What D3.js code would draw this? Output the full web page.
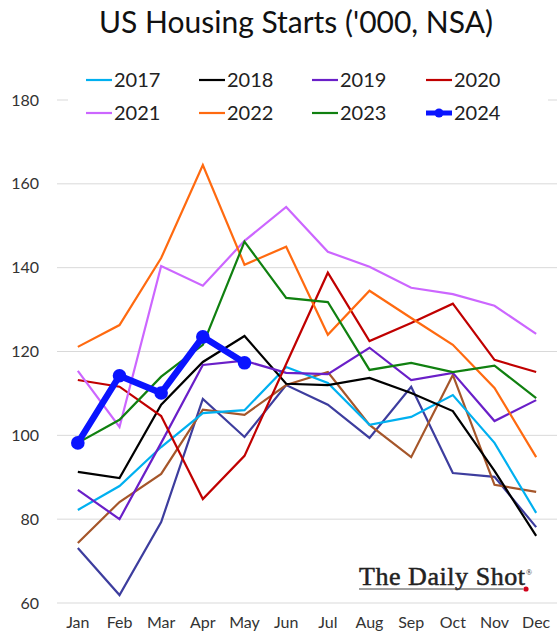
<!DOCTYPE html>
<html>
<head>
<meta charset="utf-8">
<script src="https://cdn.jsdelivr.net/npm/d3@7"></script>
<style>
  body { margin: 0; background: #fff; }
  svg { display: block; }
  .tick text { font-family: Lato, "Open Sans", sans-serif; fill: #333; }
</style>
</head>
<body>
<div id="container"></div>
<script>
const months = ["Jan","Feb","Mar","Apr","May","Jun","Jul","Aug","Sep","Oct","Nov","Dec"];
const yTicks = [60, 80, 100, 120, 140, 160, 180];

// series not shown in the legend
const y2015 = [73.1, 61.9, 79.3, 108.7, 99.6, 112.0, 107.3, 99.4, 111.6, 91.0, 90.1, 78.1];
const y2016 = [74.3, 84.1, 90.8, 106.1, 104.9, 112.0, 115.1, 102.5, 94.8, 114.4, 88.2, 86.5];
// legend series
const y2017 = [82.2, 87.9, 97.2, 105.3, 106.0, 116.3, 112.5, 102.5, 104.4, 109.6, 98.2, 81.5];
const y2018 = [91.3, 89.8, 107.3, 117.5, 123.7, 112.3, 112.0, 113.7, 110.1, 105.8, 91.5, 76.0];
const y2019 = [87.0, 80.0, 98.2, 116.8, 117.8, 114.9, 114.6, 120.9, 113.2, 114.9, 103.4, 108.4];
const y2020 = [113.2, 111.6, 104.6, 84.8, 95.1, 117.0, 138.8, 122.5, 126.8, 131.4, 118.0, 115.1];
const y2021 = [115.4, 102.0, 140.4, 135.7, 146.4, 154.5, 143.8, 140.2, 135.2, 133.7, 130.9, 124.2];
const y2022 = [121.1, 126.3, 142.3, 164.5, 140.7, 145.0, 124.0, 134.5, 128.0, 121.6, 111.3, 94.8];
const y2023 = [98.2, 103.7, 114.0, 121.6, 146.2, 132.8, 131.8, 115.6, 117.3, 115.1, 116.6, 108.9];
const y2024 = [98.2, 114.2, 110.1, 123.5, 117.3];

const series = [
  {name: "2015", values: y2015, color: "#3d3d9e", legend: false},
  {name: "2016", values: y2016, color: "#a5562a", legend: false},
  {name: "2017", values: y2017, color: "#00b0f0", legend: true},
  {name: "2018", values: y2018, color: "#000000", legend: true},
  {name: "2019", values: y2019, color: "#6a1fc8", legend: true},
  {name: "2020", values: y2020, color: "#c00000", legend: true},
  {name: "2021", values: y2021, color: "#cc66ff", legend: true},
  {name: "2022", values: y2022, color: "#ff6a10", legend: true},
  {name: "2023", values: y2023, color: "#108010", legend: true},
  {name: "2024", values: y2024, color: "#0a14ff", legend: true, thick: true}
];

const w = 560, h = 641;
const plotLeft = 57, plotRight = 557, plotTop = 100, plotBottom = 603;

const svg = d3.select("#container").append("svg")
  .attr("width", w).attr("height", h);

const x = d3.scaleBand().domain(months).range([plotLeft, plotRight]);
const y = d3.scaleLinear().domain([60, 180]).range([plotBottom, plotTop]);

svg.append("text")
  .attr("x", 296).attr("y", 33)
  .attr("text-anchor", "middle")
  .style("font-family", "Lato, 'Open Sans', sans-serif")
  .style("font-size", "30px")
  .style("fill", "#111")
  .text("US Housing Starts ('000, NSA)");

// gridlines
svg.append("g")
  .selectAll("line")
  .data(yTicks)
  .enter().append("line")
  .attr("x1", plotLeft).attr("x2", plotRight)
  .attr("y1", d => y(d)).attr("y2", d => y(d))
  .attr("stroke", "#d9d9d9").attr("stroke-width", 1);

const yAxis = svg.append("g")
  .attr("transform", "translate(" + 39 + ",0)")
  .call(d3.axisLeft(y).tickValues(yTicks).tickSize(0).tickPadding(0));
yAxis.select(".domain").remove();
yAxis.selectAll("text").style("font-size", "16px");

const xAxis = svg.append("g")
  .attr("transform", "translate(0," + (plotBottom + 14) + ")")
  .call(d3.axisBottom(x).tickSize(0).tickPadding(0));
xAxis.select(".domain").remove();
xAxis.selectAll("text").style("font-size", "16px").attr("dy", "0.71em");

// legend background hides the top gridline
svg.append("rect")
  .attr("x", 68).attr("y", 64).attr("width", 480).attr("height", 64)
  .attr("fill", "#fff");

const line = d3.line()
  .x((d, i) => x(months[i]) + x.bandwidth() / 2)
  .y(d => y(d));

svg.append("g").selectAll("path")
  .data(series)
  .enter().append("path")
  .attr("d", d => line(d.values))
  .attr("fill", "none")
  .attr("stroke", d => d.color)
  .attr("stroke-width", d => d.thick ? 6.5 : 2.2)
  .attr("stroke-linejoin", "miter");

const s24 = series[series.length - 1];
svg.append("g").selectAll("circle")
  .data(s24.values)
  .enter().append("circle")
  .attr("cx", (d, i) => x(months[i]) + x.bandwidth() / 2)
  .attr("cy", d => y(d))
  .attr("r", 6.8)
  .attr("fill", s24.color);

// legend
const legendItems = series.filter(d => d.legend);
const colX = [86, 199, 312, 426];
const rowY = [80, 113];
const lg = svg.append("g").selectAll("g")
  .data(legendItems)
  .enter().append("g")
  .attr("transform", (d, i) => "translate(" + colX[i % 4] + "," + rowY[Math.floor(i / 4)] + ")");
lg.append("line")
  .attr("x1", 0).attr("x2", 26)
  .attr("stroke", d => d.color)
  .attr("stroke-width", d => d.thick ? 5 : 2.2);
lg.filter(d => d.thick).append("circle")
  .attr("cx", 13).attr("r", 4.5).attr("fill", d => d.color);
lg.append("text")
  .attr("x", 28).attr("dy", "0.35em")
  .style("font-family", "Lato, 'Open Sans', sans-serif")
  .style("font-size", "20px")
  .style("fill", "#222")
  .text(d => d.name);

// watermark
const logo = svg.append("g").attr("transform", "translate(359,585)");
logo.append("text")
  .attr("x", 0).attr("y", 0)
  .attr("textLength", 166)
  .style("font-family", "'Liberation Serif', 'DejaVu Serif', serif")
  .style("font-size", "26px")
  .style("fill", "#222")
  .style("stroke", "#222")
  .style("stroke-width", 0.5)
  .text("The Daily Shot");
logo.append("text")
  .attr("x", 167).attr("y", -10)
  .style("font-family", "'Liberation Serif', serif")
  .style("font-size", "8px")
  .style("fill", "#222")
  .text("®");
logo.append("line")
  .attr("x1", 0).attr("x2", 164).attr("y1", 4).attr("y2", 4)
  .attr("stroke", "#444").attr("stroke-width", 1.2);
logo.append("circle")
  .attr("cx", 167).attr("cy", 4).attr("r", 2.6).attr("fill", "#d0021b");
</script>
</body>
</html>
